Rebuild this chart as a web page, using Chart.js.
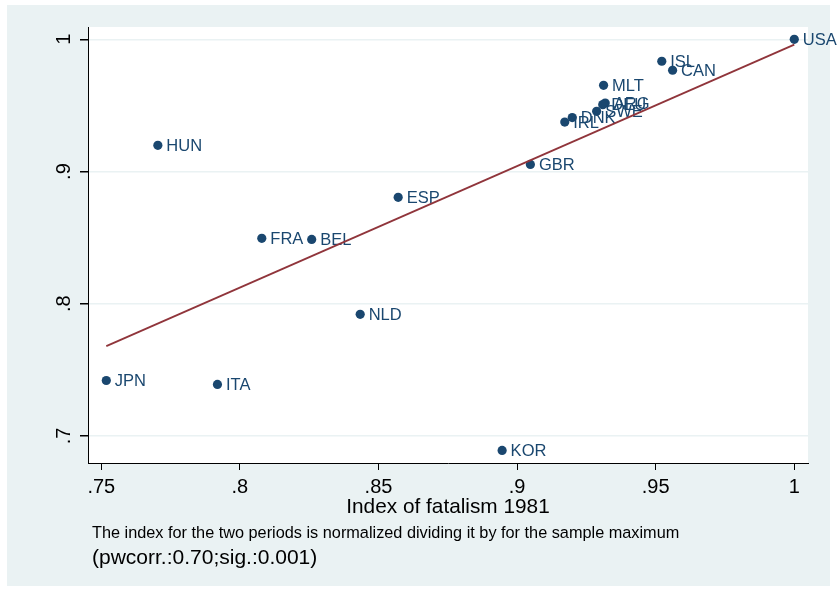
<!DOCTYPE html>
<html>
<head>
<meta charset="utf-8">
<script src="https://cdn.jsdelivr.net/npm/chart.js@4.4.1/dist/chart.umd.min.js"></script>
<style>
  html, body { margin: 0; padding: 0; background: #ffffff; }
</style>
</head>
<body>
<canvas id="fatalismChart" width="838" height="592"></canvas>
<script>
// === Data ===
const countries = ["USA", "ISL", "CAN", "MLT", "ARG", "DEU", "SWE", "DNK", "IRL",
                   "GBR", "ESP", "HUN", "FRA", "BEL", "NLD", "JPN", "ITA", "KOR"];
const fatalism1981 = [1.0, 0.9522, 0.9561, 0.9312, 0.9318, 0.9309, 0.9287, 0.9199, 0.9172,
                      0.9048, 0.8571, 0.7704, 0.8079, 0.8259, 0.8434, 0.7518, 0.7919, 0.8946];
const fatalismLater = [1.0, 0.9834, 0.9766, 0.9652, 0.9518, 0.9506, 0.9455, 0.9408, 0.9374,
                       0.9054, 0.8805, 0.9198, 0.8495, 0.8487, 0.7920, 0.7420, 0.7390, 0.6891];

// fitted line end points
const fitX = [0.7518, 1.0];
const fitY = [0.768, 0.996];

const xTicks = [0.75, 0.8, 0.85, 0.9, 0.95, 1];
const yTicks = [0.7, 0.8, 0.9, 1];

const xTitle = "Index of fatalism 1981";
const noteText = "The index for the two periods is normalized dividing it by for the sample maximum";
const captionText = "(pwcorr.:0.70;sig.:0.001)";

const NAVY = "#1a476f";
const MAROON = "#90353b";
const PANEL = "#eaf2f3";
const FONT = '"Liberation Sans", Arial, sans-serif';

Chart.defaults.font.family = FONT;

// stata style: drop the leading zero
function stataLabel(v) {
    return v === 1 ? "1" : String(v).replace(/^0/, "");
}

// light panel behind everything, white plot region
const backdrop = {
    id: "backdrop",
    beforeDraw(chart) {
        const { ctx, chartArea: a } = chart;
        ctx.save();
        ctx.fillStyle = "#ffffff";
        ctx.fillRect(0, 0, chart.width, chart.height);
        ctx.fillStyle = PANEL;
        ctx.fillRect(7, 5, 823, 581);
        ctx.fillStyle = "#ffffff";
        ctx.fillRect(a.left, a.top, a.right - a.left, a.bottom - a.top);
        ctx.restore();
    }
};

// country names to the right of each marker
const markerLabels = {
    id: "markerLabels",
    afterDatasetDraw(chart, args) {
        if (args.index !== 0) return;
        const { ctx } = chart;
        ctx.save();
        ctx.font = "16.5px " + FONT;
        ctx.fillStyle = NAVY;
        ctx.textAlign = "left";
        ctx.textBaseline = "middle";
        args.meta.data.forEach((pt, i) => {
            ctx.fillText(countries[i], pt.x + 8.5, pt.y + 1);
        });
        ctx.restore();
    }
};

// note lines under the x axis
const notes = {
    id: "notes",
    afterDraw(chart) {
        const { ctx, chartArea: a } = chart;
        ctx.save();
        ctx.fillStyle = "#000000";
        ctx.textAlign = "left";
        ctx.textBaseline = "middle";
        ctx.font = "16.3px " + FONT;
        ctx.fillText(noteText, a.left + 4, 534);
        ctx.font = "21px " + FONT;
        ctx.fillText(captionText, a.left + 4, 558);
        ctx.restore();
    }
};

const points = fatalism1981.map((x, i) => ({ x: x, y: fatalismLater[i] }));
const fitPoints = fitX.map((x, i) => ({ x: x, y: fitY[i] }));

new Chart(document.getElementById("fatalismChart"), {
    type: "scatter",
    data: {
        datasets: [
            {
                label: "countries",
                data: points,
                backgroundColor: NAVY,
                borderColor: NAVY,
                pointRadius: 4.6,
                borderWidth: 0,
                order: 1
            },
            {
                type: "line",
                label: "fit",
                data: fitPoints,
                borderColor: MAROON,
                borderWidth: 1.8,
                pointRadius: 0,
                fill: false,
                tension: 0,
                order: 0
            }
        ]
    },
    options: {
        responsive: false,
        animation: false,
        devicePixelRatio: 1,
        layout: { padding: { left: 0, right: 30, top: 27, bottom: 59 } },
        plugins: {
            legend: { display: false },
            tooltip: { enabled: false }
        },
        scales: {
            x: {
                type: "linear",
                min: 0.7452,
                max: 1.00495,
                afterBuildTicks: (scale) => { scale.ticks = xTicks.map(v => ({ value: v })); },
                afterFit: (scale) => { scale.height = 70; },
                ticks: {
                    autoSkip: false,
                    maxRotation: 0,
                    padding: 5,
                    color: "#000000",
                    font: { size: 20 },
                    callback: (v) => stataLabel(v)
                },
                grid: {
                    drawOnChartArea: false,
                    drawTicks: true,
                    tickLength: 7,
                    tickColor: "#000000"
                },
                border: { display: true, color: "#000000", width: 1 },
                title: {
                    display: true,
                    text: xTitle,
                    color: "#000000",
                    font: { size: 20.8 },
                    padding: { top: 0, bottom: 13 }
                }
            },
            y: {
                type: "linear",
                min: 0.6796,
                max: 1.0093,
                afterBuildTicks: (scale) => { scale.ticks = yTicks.map(v => ({ value: v })); },
                afterFit: (scale) => { scale.width = 88; },
                ticks: {
                    autoSkip: false,
                    minRotation: 90,
                    maxRotation: 90,
                    crossAlign: "center",
                    padding: 7,
                    color: "#000000",
                    font: { size: 20 },
                    callback: (v) => stataLabel(v)
                },
                grid: {
                    color: PANEL,
                    lineWidth: 1.5,
                    drawTicks: true,
                    tickLength: 8,
                    tickColor: "#000000"
                },
                border: { display: true, color: "#000000", width: 1 }
            }
        }
    },
    plugins: [backdrop, markerLabels, notes]
});
</script>
</body>
</html>
